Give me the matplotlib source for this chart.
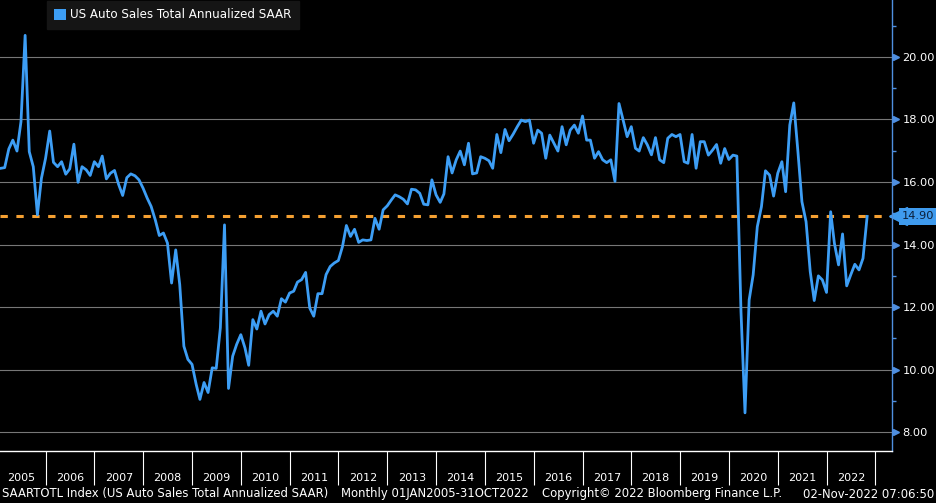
import datetime as dt

import numpy as np
import matplotlib

matplotlib.use("Agg")
import matplotlib.pyplot as plt
import matplotlib.dates as mdates
import matplotlib.transforms as mtransforms
from matplotlib.patches import Patch

# monthly US auto sales SAAR (millions), Jan 2005 .. Oct 2022
sales_2005 = [16.44, 16.46, 17.06, 17.34, 16.99, 17.93, 20.69, 16.97, 16.49, 14.95, 16.12, 16.76]
sales_2006 = [17.63, 16.63, 16.49, 16.65, 16.25, 16.42, 17.21, 15.99, 16.49, 16.39, 16.21, 16.65]
sales_2007 = [16.49, 16.83, 16.10, 16.28, 16.37, 15.93, 15.57, 16.14, 16.26, 16.20, 16.07, 15.80]
sales_2008 = [15.48, 15.22, 14.79, 14.29, 14.37, 14.05, 12.77, 13.83, 12.72, 10.75, 10.33, 10.17]
sales_2009 = [9.53, 9.05, 9.59, 9.27, 10.06, 10.04, 11.34, 14.63, 9.40, 10.43, 10.81, 11.12]
sales_2010 = [10.70, 10.14, 11.60, 11.30, 11.87, 11.46, 11.76, 11.87, 11.71, 12.27, 12.16, 12.45]
sales_2011 = [12.51, 12.80, 12.88, 13.11, 11.97, 11.71, 12.43, 12.43, 13.04, 13.30, 13.41, 13.49]
sales_2012 = [13.94, 14.61, 14.26, 14.49, 14.07, 14.15, 14.13, 14.15, 14.84, 14.49, 15.11, 15.24]
sales_2013 = [15.43, 15.59, 15.53, 15.45, 15.30, 15.77, 15.75, 15.64, 15.29, 15.27, 16.07, 15.59]
sales_2014 = [15.35, 15.62, 16.81, 16.29, 16.71, 16.99, 16.55, 17.24, 16.26, 16.29, 16.81, 16.76]
sales_2015 = [16.68, 16.44, 17.52, 16.94, 17.68, 17.32, 17.53, 17.77, 17.98, 17.93, 17.98, 17.24]
sales_2016 = [17.66, 17.56, 16.76, 17.50, 17.24, 16.99, 17.77, 17.19, 17.66, 17.82, 17.56, 18.11]
sales_2017 = [17.34, 17.34, 16.76, 16.97, 16.71, 16.62, 16.71, 16.02, 18.51, 17.98, 17.45, 17.77]
sales_2018 = [17.08, 16.99, 17.42, 17.19, 16.87, 17.42, 16.71, 16.62, 17.40, 17.52, 17.45, 17.52]
sales_2019 = [16.65, 16.60, 17.52, 16.44, 17.29, 17.29, 16.86, 17.02, 17.20, 16.60, 17.07, 16.72]
sales_2020 = [16.86, 16.83, 11.85, 8.62, 12.23, 13.03, 14.57, 15.21, 16.36, 16.22, 15.55, 16.28]
sales_2021 = [16.65, 15.69, 17.82, 18.53, 16.97, 15.37, 14.73, 13.14, 12.21, 13.00, 12.87, 12.47]
sales_2022 = [15.05, 14.04, 13.35, 14.34, 12.68, 13.03, 13.37, 13.19, 13.56, 14.90]

years = list(range(2005, 2023))
y_ticks = [8, 10, 12, 14, 16, 18, 20]
y_minor = [9, 11, 13, 15, 17, 19, 21]

legend_label = "US Auto Sales Total Annualized SAAR"
footer_parts = [
    "SAARTOTL Index (US Auto Sales Total Annualized SAAR)",
    "Monthly 01JAN2005-31OCT2022",
    "Copyright\u00a9 2022 Bloomberg Finance L.P.",
    "02-Nov-2022 07:06:50",
]

saar = (sales_2005 + sales_2006 + sales_2007 + sales_2008 + sales_2009 + sales_2010
        + sales_2011 + sales_2012 + sales_2013 + sales_2014 + sales_2015 + sales_2016
        + sales_2017 + sales_2018 + sales_2019 + sales_2020 + sales_2021 + sales_2022)


def month_end(i):
    y, m = 2005 + i // 12, i % 12 + 1
    nxt = dt.date(y + (m == 12), m % 12 + 1, 1)
    return nxt - dt.timedelta(days=1)


dates = [month_end(i) for i in range(len(saar))]
last = saar[-1]

LINE = "#3d9ef5"
ORANGE = "#f5a032"
AXIS_BLUE = "#4f8fe0"
TAG = "#3f9bee"
GRID = "#777777"

plt.rcParams["font.family"] = ["DejaVu Sans"]

fig = plt.figure(figsize=(9.36, 5.03), dpi=100, facecolor="black")
ax = fig.add_axes([0, 52 / 503, 892 / 936, 451 / 503])
ax.set_facecolor("black")

ax.plot(dates, saar, color=LINE, lw=2.0, zorder=3)
ax.axhline(last, color=ORANGE, lw=2.2, dashes=(2.4, 2.8), zorder=2)

ax.set_xlim(dt.date(2005, 1, 24), dt.date(2023, 5, 5))
ax.set_ylim(7.40, 21.82)

# y axis on the right
ax.yaxis.tick_right()
ax.set_yticks(y_ticks)
ax.set_yticklabels([f"{v:.2f}" for v in y_ticks])
ax.set_yticks(y_minor, minor=True)
ax.grid(axis="y", which="major", color=GRID, lw=0.8, zorder=1)
ax.tick_params(axis="y", which="major", length=0, pad=7.5, labelcolor="white", labelsize=8.2)
ax.tick_params(axis="y", which="minor", length=3, width=1, color=AXIS_BLUE)

# x axis: year separators + centred year labels
ax.set_xticks([dt.date(y + 1, 1, 1) for y in years])
ax.set_xticklabels([])
ax.set_xticks([dt.date(y, 7, 2) for y in years], minor=True)
ax.set_xticklabels([str(y) for y in years], minor=True)
ax.tick_params(axis="x", which="major", length=24.5, width=0.8, color="white", direction="out")
ax.tick_params(axis="x", which="minor", length=0, pad=15.5, labelcolor="white", labelsize=8)

for side in ["left", "top"]:
    ax.spines[side].set_visible(False)
ax.spines["right"].set_color(AXIS_BLUE)
ax.spines["right"].set_linewidth(1)
ax.spines["bottom"].set_color("white")
ax.spines["bottom"].set_linewidth(1)

# little arrow markers at the major y ticks
blend = mtransforms.blended_transform_factory(ax.transAxes, ax.transData)
tri_tr = mtransforms.offset_copy(blend, fig=fig, x=4, y=0, units="dots")
ax.plot([1] * len(y_ticks), y_ticks, ls="none", marker=">", ms=5, color=AXIS_BLUE,
        transform=tri_tr, clip_on=False)

# last value tag
tag_tr = mtransforms.offset_copy(blend, fig=fig, x=6, y=0, units="dots")
ax.plot([1], [last], ls="none", marker="<", ms=13, color=TAG, transform=tag_tr, clip_on=False)
txt_tr = mtransforms.offset_copy(blend, fig=fig, x=10, y=0, units="dots")
ax.text(1, last, f"{last:.2f}", transform=txt_tr, ha="left", va="center", fontsize=8.2,
        color="#0b1f3a", bbox=dict(boxstyle="square,pad=0.3", fc=TAG, ec="none"), clip_on=False)

leg = ax.legend(handles=[Patch(facecolor=LINE, edgecolor="none")], labels=[legend_label],
                loc="upper left", bbox_to_anchor=(46 / 892, 1.0), borderaxespad=0.1,
                frameon=True, fancybox=False, facecolor="#151515", edgecolor="#151515",
                framealpha=1, fontsize=8.6, labelcolor="white", handlelength=1.0,
                handleheight=1.0, handletextpad=0.35, borderpad=0.6)

fy = (503 - 494) / 503
fig.text(2 / 936, fy, footer_parts[0], color="white", fontsize=8.4, va="center", ha="left")
fig.text(341 / 936, fy, footer_parts[1], color="white", fontsize=8.4, va="center", ha="left")
fig.text(542 / 936, fy, footer_parts[2], color="white", fontsize=8.4, va="center", ha="left")
fig.text(934 / 936, fy, footer_parts[3], color="white", fontsize=8.4, va="center", ha="right")

fig.savefig("out.png", dpi=100, facecolor="black")
